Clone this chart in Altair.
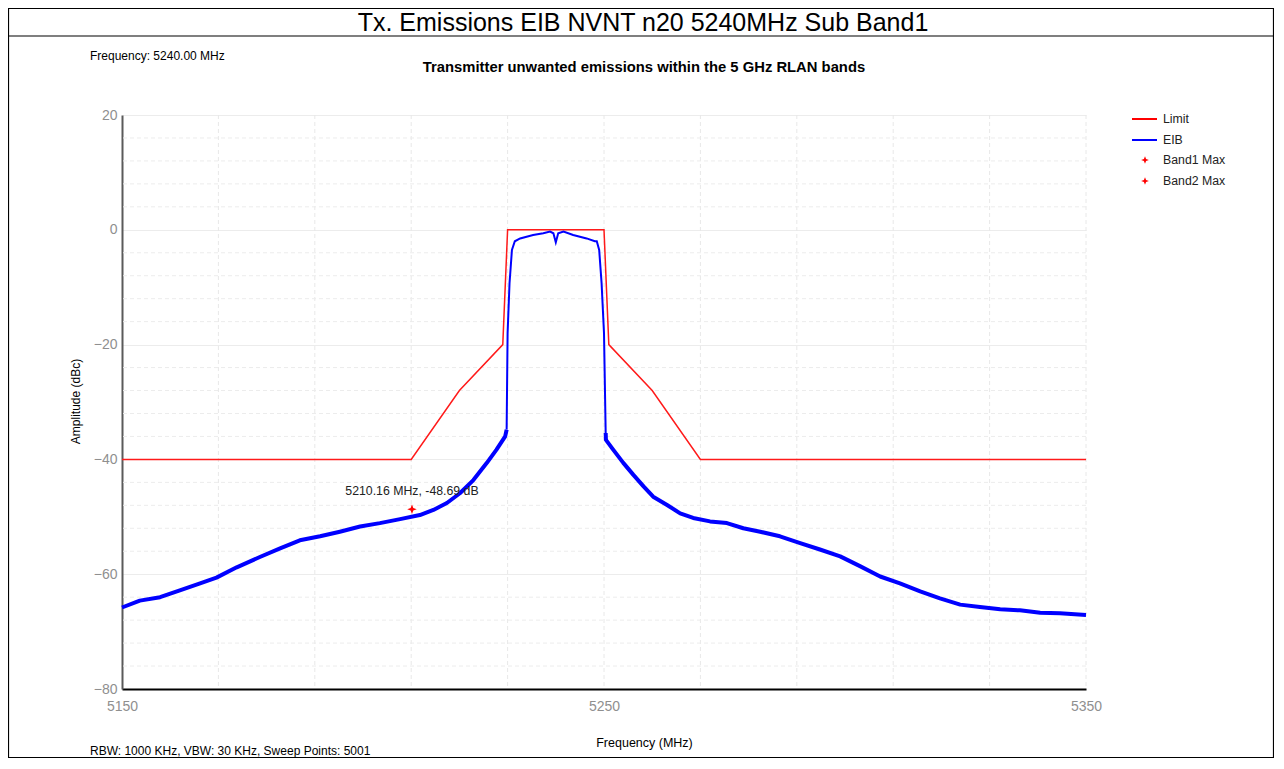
import altair as alt
import pandas as pd

FONT = "Liberation Sans"

# ---- Data ----
limit_freq = [5150, 5210, 5220, 5229, 5230, 5250, 5251, 5260, 5270, 5350]
limit_amp = [-40, -40, -28, -20, 0, 0, -20, -28, -40, -40]

eib_freq = [5150.0, 5153.7, 5157.9, 5162.0, 5166.2, 5169.6, 5173.8, 5178.6, 5182.8, 5186.9,
            5191.1, 5195.2, 5199.4, 5203.5, 5207.7, 5211.8, 5214.6, 5217.4, 5220.1, 5222.9,
            5225.7, 5227.7, 5229.5, 5229.8, 5230.0, 5230.4, 5230.9, 5231.5, 5232.6, 5235.3,
            5237.4, 5238.8, 5239.5, 5240.0, 5240.5, 5241.6, 5243.6, 5246.4, 5248.1, 5248.5,
            5249.0, 5249.5, 5250.0, 5250.35, 5250.4, 5251.9, 5254.0, 5256.1, 5258.2, 5260.2,
            5263.0, 5265.8, 5268.5, 5272.0, 5275.5, 5278.9, 5282.4, 5286.5, 5290.7, 5294.8,
            5299.0, 5303.1, 5307.3, 5311.4, 5315.6, 5319.7, 5323.9, 5328.0, 5332.2, 5336.3,
            5340.5, 5344.6, 5350.0]
eib_amp = [-65.8, -64.6, -64.0, -62.8, -61.6, -60.6, -58.8, -57.0, -55.5, -54.1,
           -53.4, -52.6, -51.7, -51.1, -50.4, -49.7, -48.8, -47.6, -45.9, -43.6,
           -40.6, -38.3, -36.0, -34.8, -18.0, -9.3, -3.5, -2.0, -1.5, -0.9,
           -0.6, -0.3, -0.6, -2.2, -0.6, -0.3, -0.9, -1.5, -2.0, -2.0,
           -3.5, -9.3, -18.0, -35.4, -36.6, -38.3, -40.6, -42.7, -44.7, -46.5,
           -47.9, -49.4, -50.2, -50.8, -51.1, -52.0, -52.6, -53.4, -54.6, -55.7,
           -56.9, -58.6, -60.4, -61.6, -63.0, -64.2, -65.3, -65.7, -66.1, -66.3,
           -66.7, -66.8, -67.1]

band1_freq = [5210.16]
band1_amp = [-48.69]
band1_label = ["5210.16 MHz, -48.69 dB"]

x_grid = [5170, 5190, 5210, 5230, 5250, 5270, 5290, 5310, 5330, 5350]
x_labels = [5150, 5250, 5350]
y_labels = [-80, -60, -40, -20, 0, 20]
y_minor = [-76, -72, -68, -64, -56, -52, -48, -44, -36, -32, -28, -24,
           -16, -12, -8, -4, 4, 8, 12, 16]

legend_names = ["Limit", "EIB", "Band1 Max", "Band2 Max"]

main_title = "Tx. Emissions EIB NVNT n20 5240MHz Sub Band1"
sub_title = "Transmitter unwanted emissions within the 5 GHz RLAN bands"
freq_note = "Frequency: 5240.00 MHz"
bw_note = "RBW: 1000 KHz,  VBW: 30 KHz,  Sweep Points: 5001"

# ---- Tables ----
limit_df = pd.DataFrame({"freq": limit_freq, "amp": limit_amp})
eib_df = pd.DataFrame({"freq": eib_freq, "amp": eib_amp})
left = eib_df[eib_df.freq <= 5229.8].assign(seg="left")
center = eib_df[(eib_df.freq >= 5229.8) & (eib_df.freq <= 5250.35)].assign(seg="center")
right = eib_df[eib_df.freq >= 5250.35].assign(seg="right")
outer_df = pd.concat([left, right])
band1_df = pd.DataFrame({"freq": band1_freq, "amp": band1_amp, "label": band1_label})
xgrid_df = pd.DataFrame({"freq": x_grid})
ygrid_df = pd.DataFrame({"amp": y_minor})

X_SCALE = alt.Scale(domain=[5150, 5350], nice=False, zero=False)
Y_SCALE = alt.Scale(domain=[-80, 20], nice=False, zero=False)

x_axis = alt.Axis(
    values=x_labels, format="d",
    labelOverlap=False, labelFlush=False, ticks=False, labelPadding=10, labelFontSize=14,
    labelColor="#8f8f8f", labelFont=FONT,
    domainColor="#000000", domainWidth=2,
    grid=False,
    title="Frequency (MHz)", titleFont=FONT, titleFontSize=12.5, titleFontWeight="normal",
    titleColor="#000000", titleX=522, titleY=53, titleAlign="center",
    titleBaseline="middle",
)
y_axis = alt.Axis(
    values=y_labels, format="d",
    labelOverlap=False, labelFlush=False, ticks=False, labelPadding=5, labelFontSize=14,
    labelColor="#8f8f8f", labelFont=FONT,
    domainColor="#5a5a5a", domainWidth=2,
    grid=True, gridColor="#ececec", gridWidth=1,
    title="Amplitude (dBc)", titleFont=FONT, titleFontSize=12, titleFontWeight="normal",
    titleColor="#000000", titleX=-47, titleY=286, titleAngle=270, titleAlign="center",
    titleBaseline="middle",
)

x_enc = alt.X("freq:Q", scale=X_SCALE, axis=x_axis)
y_enc = alt.Y("amp:Q", scale=Y_SCALE, axis=y_axis)

xgrid = alt.Chart(xgrid_df).mark_rule(color="#e8e8e8", strokeDash=[4, 3], strokeWidth=1).encode(
    x=x_enc)
ygrid = alt.Chart(ygrid_df).mark_rule(color="#ececec", strokeDash=[4, 3], strokeWidth=1).encode(
    y=y_enc)

limit_line = alt.Chart(limit_df).mark_line(color="#ff1a1a", strokeWidth=1.5).encode(
    x=x_enc, y=y_enc)

eib_outer = alt.Chart(outer_df).mark_line(color="#0000ff", strokeWidth=4, strokeJoin="round").encode(
    x=x_enc, y=y_enc, detail="seg:N")
eib_center = alt.Chart(center).mark_line(color="#0000ff", strokeWidth=2).encode(
    x=x_enc, y=y_enc)

STAR = "M0,-1L0.28,-0.28L1,0L0.28,0.28L0,1L-0.28,0.28L-1,0L-0.28,-0.28Z"

band1_pt = alt.Chart(band1_df).mark_point(shape=STAR, filled=True, color="#ff0000", size=90, opacity=1).encode(
    x=x_enc, y=y_enc)
band1_txt = alt.Chart(band1_df).mark_text(font=FONT, fontSize=12.3, color="#222222", dy=-18, align="center").encode(
    x=x_enc, y=y_enc, text="label:N")

one = pd.DataFrame({"a": [0]})

frame = alt.Chart(one).mark_rect(fillOpacity=0, stroke="#000000", strokeWidth=1.2).encode(
    x=alt.value(-113.5), x2=alt.value(1151.5), y=alt.value(-106.5), y2=alt.value(642.5))
sep = alt.Chart(one).mark_rule(color="#000000", strokeWidth=1.2).encode(
    x=alt.value(-114), x2=alt.value(1152), y=alt.value(-79))


def txt(s, x, y, size, weight="normal", align="left", color="#000000", baseline="middle"):
    return alt.Chart(pd.DataFrame({"t": [s]})).mark_text(
        font=FONT, fontSize=size, fontWeight=weight, align=align, baseline=baseline, color=color
    ).encode(x=alt.value(x), y=alt.value(y), text="t:N")


title_t = txt(main_title, 521, -84, 25, align="center", baseline="alphabetic")
sub_t = txt(sub_title, 522, -47, 14.8, weight="bold", align="center")
freq_t = txt(freq_note, -32, -59, 12)
bw_t = txt(bw_note, -32, 636, 12)

# Legend (manual)
leg_rows = [4, 25, 45, 66]
leg_layers = []
leg_layers.append(alt.Chart(one).mark_rule(color="#ff0000", strokeWidth=2).encode(
    x=alt.value(1010), x2=alt.value(1035), y=alt.value(leg_rows[0])))
leg_layers.append(alt.Chart(one).mark_rule(color="#0000ff", strokeWidth=2).encode(
    x=alt.value(1010), x2=alt.value(1035), y=alt.value(leg_rows[1])))
for r in leg_rows[2:]:
    leg_layers.append(alt.Chart(one).mark_point(shape=STAR, filled=True, color="#ff0000", size=60, opacity=1).encode(
        x=alt.value(1023), y=alt.value(r)))
for name, r in zip(legend_names, leg_rows):
    leg_layers.append(txt(name, 1041, r, 12.3, color="#222222"))

chart = alt.layer(
    frame, sep, xgrid, ygrid, limit_line, eib_outer, eib_center, band1_pt, band1_txt,
    title_t, sub_t, freq_t, bw_t, *leg_layers
).properties(
    width=964, height=574,
    autosize=alt.AutoSizeParams(type="none"),
    padding={"left": 114, "top": 107, "right": 188, "bottom": 69},
    background="white",
).configure_view(stroke=None)

chart.save("out.html", embed_options={"renderer": "svg", "actions": False})
